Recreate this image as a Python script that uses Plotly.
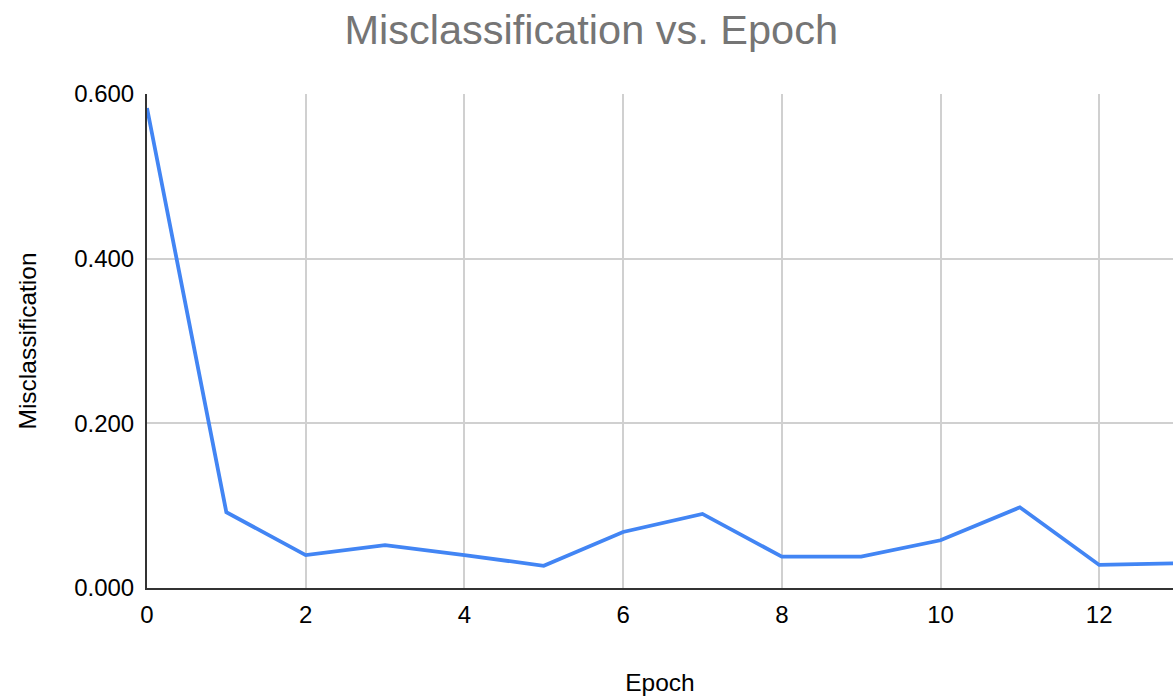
import plotly.graph_objects as go

epochs = [0, 1, 2, 3, 4, 5, 6, 7, 8, 9, 10, 11, 12, 13]
misclassification = [0.583, 0.092, 0.040, 0.052, 0.040, 0.027, 0.068, 0.090,
                     0.038, 0.038, 0.058, 0.098, 0.028, 0.030]

title_text = "Misclassification vs. Epoch"
x_title = "Epoch"
y_title = "Misclassification"

font_family = "Liberation Sans, Arial, sans-serif"

fig = go.Figure()
fig.add_trace(go.Scatter(
    x=epochs, y=misclassification, mode="lines",
    line=dict(color="#4285F4", width=3.8),
    showlegend=False, hoverinfo="x+y",
))

fig.update_layout(
    width=1173, height=696,
    margin=dict(l=147, r=0, t=94, b=108),
    paper_bgcolor="white", plot_bgcolor="white",
    font=dict(family=font_family, color="#000000"),
    title=dict(text=title_text, x=0.504, xanchor="center", y=0.957, yanchor="middle",
               font=dict(size=41.5, color="#757575", family=font_family)),
)

fig.update_xaxes(
    range=[0, 12.93], tickmode="linear", tick0=0, dtick=2,
    showgrid=True, gridcolor="#d0d0d0", gridwidth=2,
    showline=True, linecolor="#333333", linewidth=2,
    zeroline=False, ticks="", ticklabelstandoff=4,
    tickfont=dict(size=24, color="#000000"),
    title=dict(text=x_title, font=dict(size=24.5, color="#000000"), standoff=47),
    automargin=False,
)
fig.update_yaxes(
    range=[0, 0.6], tickmode="linear", tick0=0, dtick=0.2, tickformat=".3f",
    showgrid=True, gridcolor="#d0d0d0", gridwidth=2,
    showline=True, linecolor="#333333", linewidth=2,
    zeroline=False, ticks="", ticklabelstandoff=6,
    tickfont=dict(size=24, color="#000000"),
    title=dict(text=y_title, font=dict(size=24.5, color="#000000"), standoff=31),
    automargin=False,
)

fig.write_html(
    "out.html",
    config={"displayModeBar": False},
    post_script="document.body.style.margin='0';document.body.style.overflow='hidden';",
)
